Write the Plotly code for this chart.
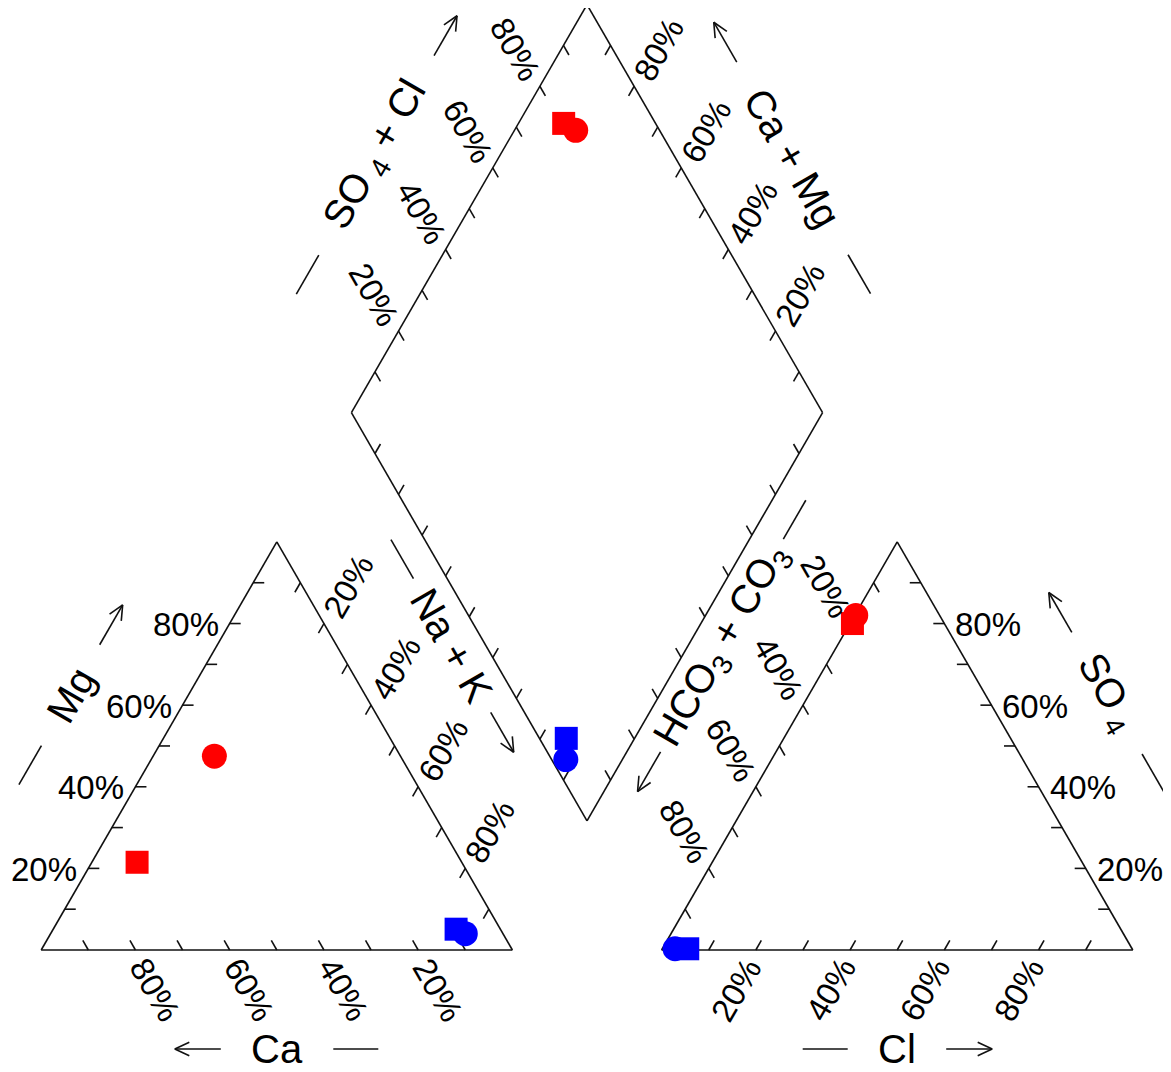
import numpy as np
import plotly.graph_objects as go

# ---------------- data (percent of total meq) ----------------
sample_colors = ["#FF0000", "#FF0000", "#0000FF", "#0000FF"]
sample_symbols = ["circle", "square", "circle", "square"]
ca = [39.5, 68.9, 8.0, 9.4]
mg = [47.5, 21.5, 4.0, 5.1]
na_k = [13.0, 9.6, 88.0, 85.5]
hco3_co3 = [17.8, 19.5, 97.0, 94.3]
so4 = [82.0, 80.0, 0.3, 0.3]
cl = [0.2, 0.5, 2.7, 5.4]
tick_values = [10, 20, 30, 40, 50, 60, 70, 80, 90]
label_values = [20, 40, 60, 80]
tick_labels = ["20%", "40%", "60%", "80%"]

# ---------------- geometry ----------------
S = 471.2                 # triangle side
H = S * np.sqrt(3) / 2
XL = 41.2                 # left triangle left vertex
GAP = 149.2
XR = XL + S + GAP         # right triangle left vertex
XB = XL + S + GAP / 2     # diamond bottom vertex
YB = GAP / 2 * np.sqrt(3)
TICK = 11
FONT = "Liberation Sans, Arial, sans-serif"
C60, S60 = 0.5, np.sqrt(3) / 2
PAGE_MARGIN = 8           # default body margin of the html page


def cation_xy(c, m, n):
    t = c + m + n
    m, n = m / t, n / t
    return XL + S * (n + m / 2), H * m


def anion_xy(h, s, c):
    t = h + s + c
    s, c = s / t, c / t
    return XR + S * (c + s / 2), H * s


def diamond_xy(cat, an):
    return XB + S / 2 * (an - cat), YB + H * (an + cat)


lx, ly = [], []


def seg(p, q):
    lx.extend([p[0], q[0], None])
    ly.extend([p[1], q[1], None])


annotations = []


def text(x, y, s, angle=0, size=33, xanchor="center"):
    annotations.append(dict(x=x, y=y, text=s, showarrow=False, textangle=angle,
                            xanchor=xanchor, yanchor="middle",
                            font=dict(family=FONT, size=size, color="black")))


def down(angle):
    a = np.radians(angle)
    return np.array([-np.sin(a), -np.cos(a)])


def tick_set(points_fn, inward, lab_dir=None, lab_angle=0, lab_off=44):
    inward = np.array(inward)
    for v in tick_values:
        p = np.array(points_fn(v / 100))
        seg(p, p + TICK * inward)
        if lab_dir is not None and v in label_values:
            c = p + lab_off * np.array(lab_dir) + 3 * down(lab_angle)
            text(c[0], c[1], tick_labels[label_values.index(v)], lab_angle)


# outlines
lv = [(XL, 0), (XL + S, 0), (XL + S / 2, H), (XL, 0)]
rv = [(XR, 0), (XR + S, 0), (XR + S / 2, H), (XR, 0)]
dv = [diamond_xy(0, 0), diamond_xy(1, 0), diamond_xy(1, 1), diamond_xy(0, 1), diamond_xy(0, 0)]
for poly in (lv, rv, dv):
    for a, b in zip(poly[:-1], poly[1:]):
        seg(a, b)

# left triangle ticks
tick_set(lambda v: cation_xy(v, 0, 1 - v), (-C60, S60), (C60, -S60), 60)          # Ca, bottom
tick_set(lambda v: cation_xy(1 - v, v, 0), (1, 0))                                # Mg, left
tick_set(lambda v: cation_xy(0, 1 - v, v), (-C60, -S60), (C60, S60), -60)         # Na+K, right
for v, s in zip(label_values, tick_labels):
    x, y = cation_xy(1 - v / 100, v / 100, 0)
    text(x - 9, y - 1, s, 0, xanchor="right")

# right triangle ticks
tick_set(lambda v: anion_xy(1 - v, 0, v), (C60, S60), (-C60, -S60), -60)          # Cl, bottom
tick_set(lambda v: anion_xy(0, v, 1 - v), (-1, 0))                               # SO4, right
tick_set(lambda v: anion_xy(v, 1 - v, 0), (C60, -S60), (-C60, S60), 60)           # HCO3, left
for v, s in zip(label_values, tick_labels):
    x, y = anion_xy(0, v / 100, 1 - v / 100)
    text(x + 9, y - 1, s, 0, xanchor="left")

# diamond ticks
tick_set(lambda v: diamond_xy(1, v), (C60, -S60), (-C60, S60), 60)                # SO4+Cl, upper-left
tick_set(lambda v: diamond_xy(v, 1), (-C60, -S60), (C60, S60), -60)               # Ca+Mg, upper-right
tick_set(lambda v: diamond_xy(v, 0), (C60, S60))                                  # lower-left
tick_set(lambda v: diamond_xy(0, v), (-C60, S60))                                 # lower-right


# axis titles with "—  title  →" decorations
def title(center, t, hd, s, angle):
    center = np.array(center, float)
    t = np.array(t, float)
    text(center[0], center[1], s, angle, size=40)
    lc = center - hd * t
    seg(lc - 22.5 * t, lc + 22.5 * t)
    ac = center + hd * t
    a0, a1 = ac - 23 * t, ac + 23 * t
    seg(a0, a1)
    for sgn in (1, -1):
        th = np.radians(25) * sgn
        r = np.array([t[0] * np.cos(th) - t[1] * np.sin(th), t[0] * np.sin(th) + t[1] * np.cos(th)])
        seg(a1, a1 - 16 * r)


nl = np.array([-S60, C60])      # outward normal, left edges
nr = np.array([S60, C60])       # outward normal, right edges
up_l = np.array([C60, S60])     # along a "/" edge, upward
up_r = np.array([-C60, S60])    # along a "\" edge, upward

title((XL + S / 2, -99), (-1, 0), 79, "Ca", 0)
title((XR + S / 2, -99), (1, 0), 72, "Cl", 0)
title(np.array([XL + S / 4, H / 2]) + 102 * nl, up_l, 81, "Mg", -60)
title(np.array([XR + 3 * S / 4, H / 2]) + 106 * nr, up_r, 93, "SO<sub> 4</sub>", 60)
title(np.array([XL + 3 * S / 4, H / 2]) + 100 * nr + 58 * up_r, -up_r, 100, "Na + K", 60)
title(np.array([XR + S / 4, H / 2]) + 100 * nl + 58 * up_l, -up_l, 145.5,
      "HCO<sub>3</sub> + CO<sub>3</sub>", -60)
title(np.array([XB - S / 4, YB + 1.5 * H]) + 107 * nl, up_l, 138, "SO<sub> 4</sub> + Cl", -60)
title(np.array([XB + S / 4, YB + 1.5 * H]) + 101 * nr, up_r, 134, "Ca + Mg", 60)

fig = go.Figure()
fig.add_trace(go.Scatter(x=lx, y=ly, mode="lines", line=dict(color="#111111", width=1.6),
                         hoverinfo="skip", showlegend=False))

# sample points
for i in range(len(ca)):
    px = [cation_xy(ca[i], mg[i], na_k[i]), anion_xy(hco3_co3[i], so4[i], cl[i]),
          diamond_xy((ca[i] + mg[i]) / (ca[i] + mg[i] + na_k[i]),
                     (so4[i] + cl[i]) / (hco3_co3[i] + so4[i] + cl[i]))]
    size = 25 if sample_symbols[i] == "circle" else 23
    fig.add_trace(go.Scatter(x=[p[0] for p in px], y=[p[1] for p in px], mode="markers",
                             marker=dict(symbol=sample_symbols[i], color=sample_colors[i],
                                         size=size, line=dict(width=0)),
                             showlegend=False))

W, HT = 1171 - PAGE_MARGIN, 1072 - PAGE_MARGIN
fig.update_layout(
    width=W, height=HT, autosize=False,
    margin=dict(l=0, r=0, t=0, b=0),
    paper_bgcolor="white", plot_bgcolor="white",
    xaxis=dict(range=[PAGE_MARGIN, 1171], visible=False, fixedrange=True),
    yaxis=dict(range=[950 - 1072, 950 - PAGE_MARGIN], visible=False, fixedrange=True),
    annotations=annotations,
    showlegend=False,
)
fig.write_html("out.html")
